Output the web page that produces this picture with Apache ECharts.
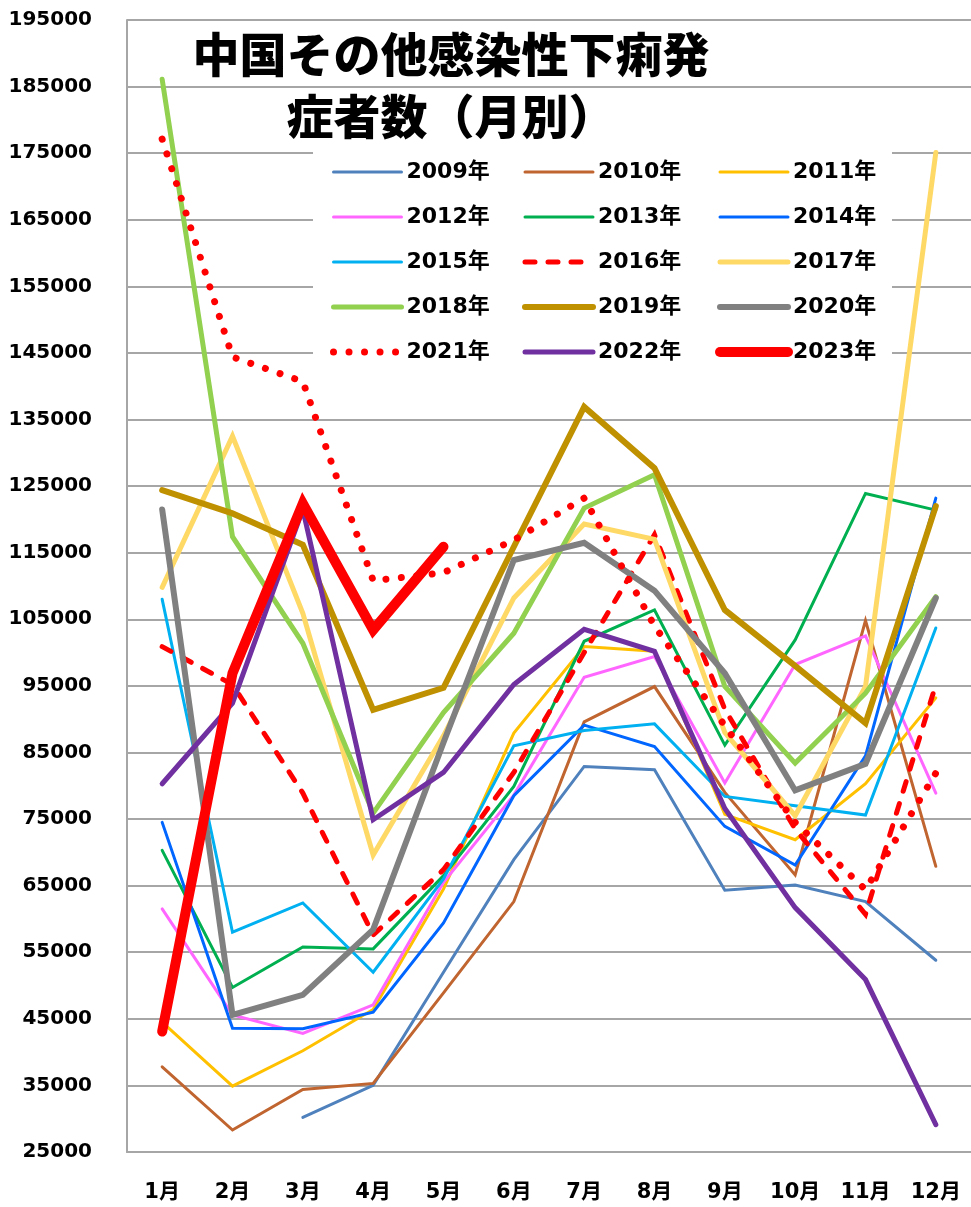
<!DOCTYPE html>
<html lang="ja">
<head>
    <meta charset="UTF-8">
    <title>中国その他感染性下痢発症者数（月別）</title>
    <script src="https://cdn.jsdelivr.net/npm/echarts@6/dist/echarts.min.js"></script>
    <style>
        body { margin: 0; padding: 0; background: #fff; }
        #chart { width: 971px; height: 1207px; }
    </style>
</head>
<body>
    <div id="chart"></div>
    <script>
        // 月
        const months = ['1月', '2月', '3月', '4月', '5月', '6月', '7月', '8月', '9月', '10月', '11月', '12月'];

        // 年ごとの発症者数
        const y2009 = [null, null, 30200, 35000, 52000, 68900, 82900, 82400, 64300, 65100, 62600, 53800];
        const y2010 = [37800, 28300, 34400, 35300, 48900, 62600, 89600, 94900, 79000, 66600, 104800, 67900];
        const y2011 = [44500, 34900, 40200, 46400, 64500, 87900, 100900, 100200, 75700, 71900, 80300, 93200];
        const y2012 = [61500, 45600, 42800, 47100, 65500, 78600, 96300, 99400, 80400, 98200, 102500, 78900];
        const y2013 = [70300, 49700, 55800, 55500, 66500, 79900, 101700, 106400, 86100, 101900, 123900, 121400];
        const y2014 = [74500, 43600, 43500, 46000, 59400, 78500, 89100, 85900, 73900, 68100, 84500, 123200];
        const y2015 = [108000, 58000, 62400, 52000, 66000, 86000, 88300, 89300, 78400, 77000, 75600, 103700];
        const y2016 = [100900, 95200, 78900, 57600, 67400, 82000, 100000, 117700, 91500, 73500, 60700, 95200];
        const y2017 = [109800, 132500, 105900, 69600, 87500, 108200, 119300, 117000, 88000, 75500, 94900, 175100];
        const y2018 = [186100, 117400, 101400, 75900, 91000, 102900, 121700, 126700, 94900, 83400, 93900, 108400];
        const y2019 = [124400, 120900, 116200, 91400, 94700, 115900, 136900, 127700, 106400, 98000, 89400, 122000];
        const y2020 = [121500, 45600, 48600, 58400, 86500, 113900, 116500, 109300, 96900, 79300, 83300, 108200];
        const y2021 = [177100, 144400, 140700, 110800, 112000, 116900, 123200, 104000, 89000, 74500, 64400, 81900];
        const y2022 = [80300, 92400, 121500, 74900, 82000, 95200, 103500, 100200, 76600, 61700, 50900, 29100];
        const y2023 = [43100, 96900, 122400, 103400, 115900, null, null, null, null, null, null, null];

        const chart = echarts.init(document.getElementById('chart'));

        function line(name, data, color, width, type) {
            return {
                name: name,
                type: 'line',
                data: data,
                symbol: 'none',
                showSymbol: false,
                connectNulls: false,
                lineStyle: {
                    color: color,
                    width: width,
                    type: type || 'solid',
                    cap: 'round',
                    join: 'miter'
                },
                itemStyle: { color: color }
            };
        }

        const series = [
            line('2009年', y2009, '#4F81BD', 3),
            line('2010年', y2010, '#C0652F', 3),
            line('2011年', y2011, '#FFC000', 3),
            line('2012年', y2012, '#FF66FF', 3),
            line('2013年', y2013, '#00B050', 3),
            line('2014年', y2014, '#0066FF', 3),
            line('2015年', y2015, '#00B0F0', 3),
            line('2016年', y2016, '#FF0000', 5, [10, 13]),
            line('2017年', y2017, '#FFD966', 5),
            line('2018年', y2018, '#92D050', 5),
            line('2019年', y2019, '#BF9000', 6),
            line('2020年', y2020, '#808080', 6),
            line('2021年', y2021, '#FF0000', 7, [0.01, 15.5]),
            line('2022年', y2022, '#7030A0', 5),
            line('2023年', y2023, '#FF0000', 10)
        ];

        const legendText = {
            fontFamily: 'DejaVu Sans, Noto Sans CJK JP',
            fontWeight: 'bold',
            fontSize: 22,
            lineHeight: 26,
            color: '#000'
        };

        function legendCol(left, names) {
            return {
                orient: 'vertical',
                left: left,
                top: 159,
                padding: 0,
                itemWidth: 68,
                itemHeight: 14,
                itemGap: 19,
                itemStyle: { opacity: 0 },
                lineStyle: { width: 'inherit', type: 'inherit', cap: 'round' },
                textStyle: legendText,
                data: names
            };
        }

        const option = {
            backgroundColor: '#fff',
            animation: false,
            title: {
                text: '中国その他感染性下痢発\n症者数（月別）',
                left: 446,
                top: 18,
                textAlign: 'center',
                textStyle: {
                    fontFamily: 'Noto Sans CJK JP',
                    fontWeight: 900,
                    fontSize: 47,
                    lineHeight: 62,
                    color: '#000'
                }
            },
            graphic: [{
                type: 'rect',
                z: 1,
                shape: { x: 313, y: 140, width: 579, height: 240 },
                style: { fill: '#fff' }
            }],
            legend: [
                legendCol(330, ['2009年', '2012年', '2015年', '2018年', '2021年']),
                legendCol(522, ['2010年', '2013年', '2016年', '2019年', '2022年']),
                legendCol(715, ['2011年', '2014年', '2017年', '2020年', '2023年'])
            ],
            grid: {
                left: 127,
                top: 20,
                width: 846,
                bottom: 55
            },
            xAxis: {
                type: 'category',
                data: months,
                boundaryGap: true,
                axisLine: { lineStyle: { color: '#A6A6A6', width: 2 } },
                axisTick: { show: false },
                axisLabel: {
                    fontFamily: 'DejaVu Sans, Noto Sans CJK JP',
                    fontWeight: 'bold',
                    fontSize: 21,
                    color: '#000',
                    margin: 30
                }
            },
            yAxis: {
                type: 'value',
                min: 25000,
                max: 195000,
                interval: 10000,
                axisLine: { show: true, lineStyle: { color: '#A6A6A6', width: 2 } },
                axisTick: { show: false },
                splitLine: { lineStyle: { color: '#A6A6A6', width: 2 } },
                axisLabel: {
                    fontFamily: 'DejaVu Sans',
                    fontWeight: 'bold',
                    fontSize: 20,
                    color: '#000',
                    margin: 35,
                    formatter: function (v) { return String(v); }
                }
            },
            series: series
        };

        chart.setOption(option);
    </script>
</body>
</html>
